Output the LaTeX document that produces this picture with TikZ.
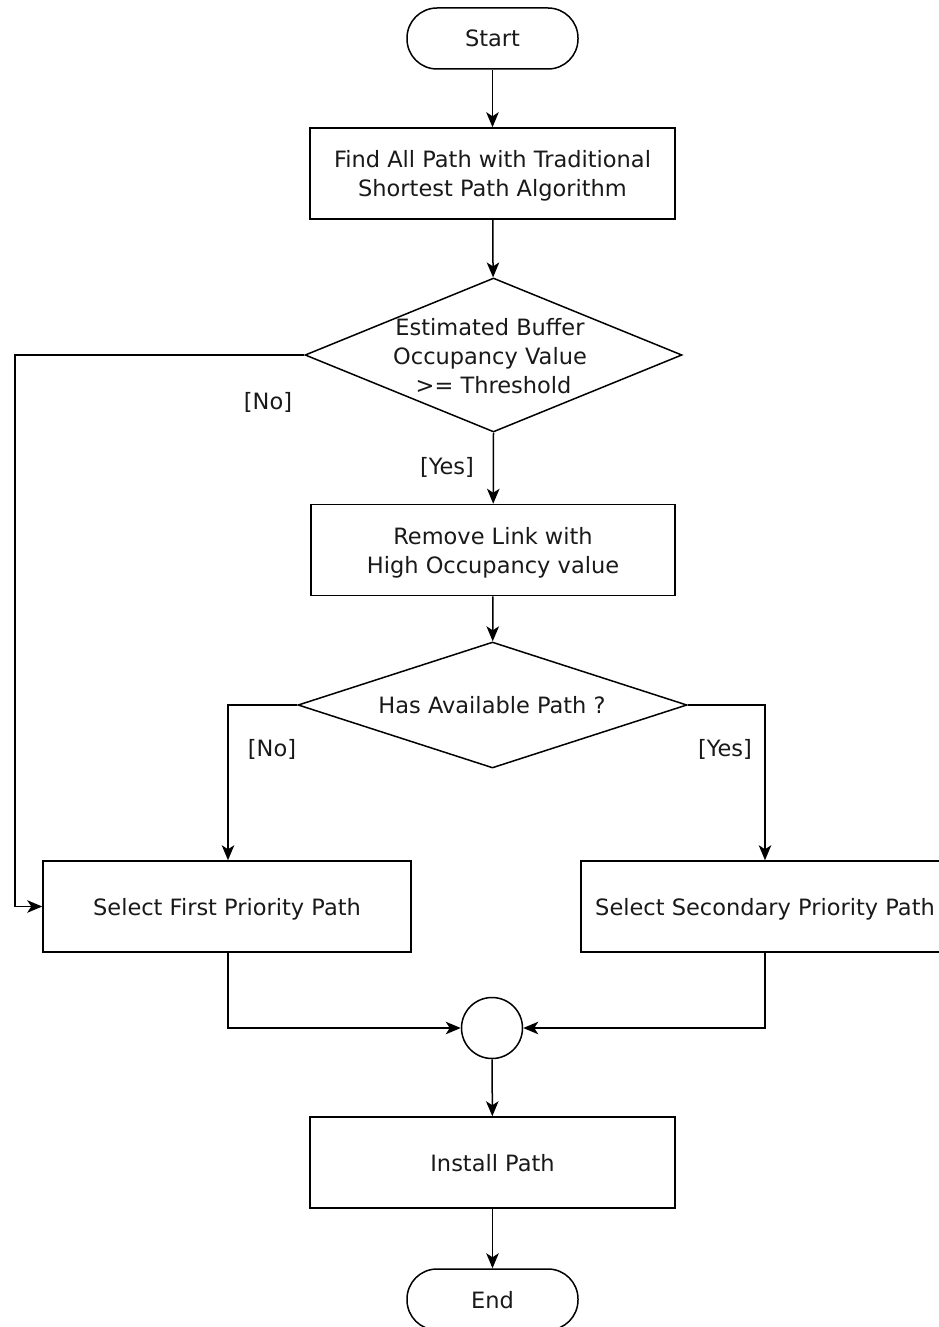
\documentclass[tikz,border=0pt]{standalone}
\usepackage{fontspec}
\setmainfont{DejaVu Sans}
\usetikzlibrary{shapes.geometric,arrows.meta}
\begin{document}
\begin{tikzpicture}[x=1pt,y=-1pt,
  line width=1.5pt,
  txt/.style={font=\fontsize{22.5}{29}\selectfont, align=center, inner sep=0pt, text=black!90},
  box/.style={draw, txt, minimum height=91pt, text depth=0pt},
  term/.style={draw, txt, rounded corners=30pt, minimum width=171pt, minimum height=61pt, text depth=0pt},
  dia/.style={draw, diamond, inner sep=0pt},
  arr/.style={-{Stealth[length=15pt,width=12.5pt,inset=4pt]}},
  lbl/.style={font=\fontsize{22.5}{27}\selectfont, inner sep=0pt, text=black!90}
]
\useasboundingbox (0,0) rectangle (938,1327);

\node[term] (start) at (492.5,38.5) {Start};
\node[box, minimum width=365pt] (find) at (492.5,173.5) {Find All Path with Traditional\\Shortest Path Algorithm};
\node[dia, minimum width=377pt, minimum height=154pt] (d1) at (493.5,355) {};
\node[txt] (d1t) at (490,356) {Estimated Buffer\\Occupancy Value\\\ >= Threshold};
\node[box, minimum width=364pt] (remove) at (493,550) {Remove Link with\\High Occupancy value};
\node[dia, minimum width=389pt, minimum height=126pt] (d2) at (492.5,705) {};
\node[txt] (d2t) at (492,705) {Has Available Path ?};
\node[box, minimum width=368pt] (first) at (227,906.5) {Select First Priority Path};
\node[box, minimum width=368pt] (second) at (765,906.5) {Select Secondary Priority Path};
\node[draw, circle, minimum size=61pt, inner sep=0pt] (join) at (492,1028) {};
\node[box, minimum width=365pt] (install) at (492.5,1162.5) {Install Path};
\node[term] (end) at (492.5,1299.5) {End};

\coordinate (k1) at (15,355);
\coordinate (k2) at (228,705);
\coordinate (k3) at (765,705);
\coordinate (k4) at (228,1028);
\coordinate (k5) at (765,1028);

\draw[arr] (start) -- (find);
\draw[arr] (find) -- (d1);
\draw[arr] (d1.west) -- (k1) |- (first.west);
\draw[arr] (d1.south) -- (remove);
\draw[arr] (remove) -- (d2);
\draw[arr] (d2.west) -- (k2) -- (first.north -| k2);
\draw[arr] (d2.east) -- (k3) -- (second.north -| k3);
\draw[arr] (first.south -| k4) -- (k4) -- (join.west);
\draw[arr] (second.south -| k5) -- (k5) -- (join.east);
\draw[arr] (join) -- (install);
\draw[arr] (install) -- (end);

\node[lbl] (l1) at (268,402) {[No]};
\node[lbl] (l2) at (447,467) {[Yes]};
\node[lbl] (l3) at (272,749) {[No]};
\node[lbl] (l4) at (725,749) {[Yes]};
\end{tikzpicture}
\end{document}
